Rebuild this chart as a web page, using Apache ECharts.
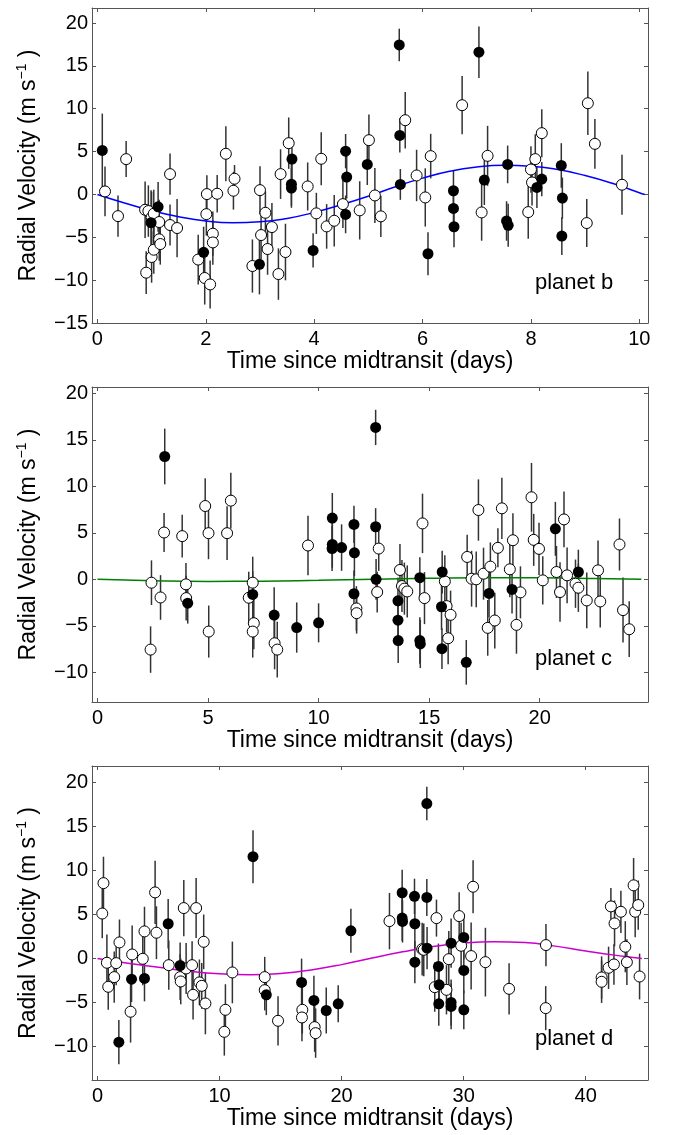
<!DOCTYPE html>
<html>
<head>
<meta charset="utf-8">
<script src="https://cdn.jsdelivr.net/npm/echarts@6/dist/echarts.min.js"></script>
<style>html,body{margin:0;padding:0;background:#fff}#chart{width:673px;height:1135px}</style>
</head>
<body>
<div id="chart"></div>
<script>
// [time (days), RV (m/s), error]
var bFilled = [
  [0.09, 5.13, 4.3], [0.99, -3.3, 3.8], [1.12, -1.44, 2.9], [1.96, -6.76, 3.0], [2.99, -8.16, 3.5],
  [3.59, 4.12, 2.5], [3.58, 1.2, 2.5], [3.58, 0.74, 2.3], [3.98, -6.53, 2.0], [4.58, 5.05, 2.0],
  [4.6, 2.02, 2.5], [4.58, -2.33, 2.2], [4.98, 3.5, 2.4], [5.57, 17.44, 1.9], [5.58, 6.88, 2.0],
  [5.59, 1.17, 1.8], [6.1, -6.92, 2.5], [6.57, 0.43, 2.4], [6.57, -1.63, 2.4], [6.58, -3.77, 2.4],
  [7.04, 16.59, 3.0], [7.14, 1.67, 2.9], [7.57, 3.5, 2.2], [7.55, -3.1, 2.3], [7.58, -3.6, 2.5],
  [8.11, 0.82, 2.4], [8.2, 1.79, 2.0], [8.56, 3.38, 2.6], [8.58, -0.43, 2.4], [8.57, -4.86, 2.2]
];
var bOpen = [
  [0.14, 0.35, 2.9], [0.38, -2.53, 2.4], [0.53, 4.12, 2.1], [0.88, -1.79, 3.3], [0.9, -9.13, 2.5],
  [0.94, -1.94, 3.0], [1.0, -7.3, 3.0], [1.0, -2.68, 3.0], [1.04, -6.45, 2.8], [1.04, -2.25, 2.8],
  [1.14, -3.22, 2.6], [1.14, -5.24, 2.5], [1.16, -5.79, 2.4], [1.34, 2.37, 2.4], [1.34, -3.57, 2.4],
  [1.47, -3.92, 3.4], [1.86, -7.6, 2.9], [1.98, -9.75, 3.1], [2.02, 0.04, 2.2], [2.01, -2.3, 2.5],
  [2.08, -10.5, 2.8], [2.13, -4.58, 2.6], [2.13, -5.6, 2.6], [2.21, 0.08, 2.2], [2.37, 4.74, 3.2],
  [2.53, 1.83, 1.6], [2.51, 0.43, 2.2], [2.86, -8.35, 3.1], [3.0, 0.5, 2.8], [3.02, -4.74, 2.8],
  [3.1, -2.14, 2.5], [3.14, -6.37, 3.0], [3.22, -3.81, 2.8], [3.34, -9.29, 3.0], [3.38, 2.37, 2.9],
  [3.47, -6.72, 3.3], [3.53, 5.98, 3.0], [3.88, 0.93, 2.8], [4.04, -2.21, 2.4], [4.13, 4.16, 3.1],
  [4.23, -3.73, 2.6], [4.37, -3.07, 3.0], [4.53, -1.13, 2.8], [4.84, -1.86, 3.4], [5.01, 6.33, 3.0],
  [5.12, -0.12, 3.2], [5.23, -2.56, 2.4], [5.68, 8.66, 3.3], [5.89, 2.21, 3.0], [6.05, -0.35, 3.4],
  [6.15, 4.47, 2.6], [6.73, 10.41, 3.4], [7.09, -2.1, 3.3], [7.2, 4.5, 3.5], [7.95, -2.06, 3.1],
  [8.0, 2.91, 2.7], [8.02, 1.4, 2.7], [8.08, 4.12, 2.9], [8.2, 7.15, 2.8], [9.03, -3.34, 2.8],
  [9.05, 10.64, 3.7], [9.18, 5.9, 2.9], [9.68, 1.13, 3.5]
];
var bModel = [
  [0, 0], [0.5, -1.0], [1, -1.9], [1.5, -2.6], [2, -3.1], [2.5, -3.3], [3, -3.2], [3.5, -2.8],
  [4, -2.1], [4.5, -1.2], [5, -0.2], [5.5, 0.9], [6, 1.9], [6.5, 2.7], [7, 3.2], [7.5, 3.4],
  [8, 3.3], [8.5, 2.9], [9, 2.2], [9.5, 1.3], [10, 0.2], [10.1, 0]
];

var cFilled = [
  [3.04, 13.22, 3.0], [4.08, -2.56, 2.2], [7.02, -1.62, 2.5], [7.99, -3.85, 3.0], [9.01, -5.19, 2.7],
  [10.0, -4.68, 2.1], [10.62, 6.59, 2.7], [10.62, 3.75, 2.5], [10.61, 3.31, 2.4], [11.04, 3.42, 2.5],
  [11.6, 5.91, 2.0], [11.62, 2.85, 2.5], [11.6, -1.55, 2.5], [12.58, 16.35, 1.9], [12.58, 5.66, 2.0],
  [12.6, 0.0, 2.2], [13.59, -2.31, 2.5], [13.59, -4.39, 2.5], [13.6, -6.59, 2.4], [14.58, 0.18, 2.2],
  [14.58, -6.59, 2.5], [14.6, -6.95, 2.6], [15.59, 0.79, 2.3], [15.56, -2.95, 2.5], [15.58, -7.46, 2.2],
  [16.68, -8.93, 2.4], [17.71, -1.51, 2.6], [18.75, -1.08, 2.6], [20.71, 5.44, 2.9], [21.75, 0.79, 2.4]
];
var cOpen = [
  [2.4, -7.56, 2.5], [2.44, -0.36, 2.4], [2.85, -1.95, 2.4], [3.01, 5.04, 2.1], [3.83, 4.65, 2.3],
  [4.0, -0.54, 2.3], [4.01, -2.02, 2.4], [4.87, 7.89, 3.0], [5.02, 4.97, 2.8], [5.03, -5.62, 2.8],
  [5.86, 4.97, 2.9], [6.03, 8.47, 3.0], [6.84, -1.98, 2.8], [7.02, -0.36, 2.8], [7.07, -4.72, 2.8],
  [7.02, -5.62, 2.8], [8.01, -6.88, 2.8], [8.13, -7.56, 3.0], [9.52, 3.64, 3.2], [11.71, -3.13, 2.4],
  [11.72, -3.64, 2.2], [12.72, 3.31, 2.4], [12.65, -1.37, 2.2], [13.68, 1.01, 2.8], [13.77, -0.72, 2.8],
  [13.88, -1.0, 2.8], [14.01, -1.3, 2.8], [14.7, 6.02, 3.2], [14.79, -2.02, 2.8], [15.71, -0.22, 2.8],
  [15.79, -2.88, 2.8], [15.97, -3.82, 2.6], [15.86, -6.34, 2.8], [16.72, 2.41, 2.4], [16.92, 0.07, 3.0],
  [17.13, 0.0, 3.0], [17.23, 7.46, 3.3], [17.46, 0.61, 2.8], [17.77, 1.37, 2.6], [17.65, -5.22, 3.0],
  [17.97, -4.43, 3.0], [18.11, 3.39, 2.1], [18.29, 7.64, 3.3], [18.65, 1.08, 3.0], [18.79, 4.21, 2.9],
  [18.95, -4.9, 3.1], [19.13, -1.4, 2.8], [19.63, 8.83, 3.7], [19.73, 4.25, 2.8], [19.97, 3.28, 2.8],
  [20.14, -0.11, 2.6], [20.76, 0.79, 2.8], [20.92, -1.37, 3.2], [21.1, 6.45, 3.0], [21.24, 0.43, 3.0],
  [21.62, -0.47, 2.6], [21.75, -0.9, 2.6], [22.13, -2.27, 3.0], [22.64, 0.97, 3.2], [22.74, -2.38, 2.8],
  [23.61, 3.75, 2.8], [23.77, -3.31, 3.5], [24.05, -5.37, 3.0]
];
var cModel = [
  [0, 0], [2.5, -0.15], [5, -0.22], [7.5, -0.2], [10, -0.1], [12.5, 0.02], [15, 0.12],
  [17.5, 0.18], [20, 0.17], [22.5, 0.1], [24.6, 0]
];

var dFilled = [
  [1.75, -9.5, 2.5], [2.79, -2.35, 2.6], [3.85, -2.27, 2.6], [5.79, 3.94, 2.8], [6.77, -0.8, 2.6],
  [12.74, 11.55, 3.0], [13.83, -4.13, 2.3], [16.72, -2.72, 2.7], [17.73, -4.77, 2.8], [18.74, -5.91, 2.6],
  [19.72, -5.15, 2.1], [20.76, 3.14, 2.5], [24.96, 7.46, 2.6], [24.96, 4.58, 2.6], [24.99, 4.2, 2.4],
  [25.97, 7.05, 2.0], [26.0, 3.94, 2.8], [26.0, -0.42, 2.4], [26.98, 17.58, 1.9], [26.98, 6.93, 2.1],
  [27.0, 1.17, 2.4], [27.93, -0.91, 2.6], [27.99, -2.99, 2.6], [27.96, -5.15, 2.5], [28.97, 1.74, 2.8],
  [28.97, -5.0, 2.6], [28.97, -5.45, 2.6], [30.01, 2.39, 2.5], [30.01, -1.36, 2.6], [30.01, -5.83, 2.2]
];
var dOpen = [
  [0.39, 5.1, 2.8], [0.49, 8.55, 3.0], [0.77, -0.49, 3.2], [0.88, -3.22, 2.6], [1.37, -2.12, 2.9],
  [1.53, -0.53, 2.5], [1.8, 1.82, 2.6], [2.71, -6.05, 3.5], [2.84, 0.45, 3.3], [3.71, -0.04, 3.0],
  [3.85, 3.07, 2.8], [4.72, 7.5, 3.6], [4.83, 2.92, 3.0], [5.84, -0.76, 2.8], [6.77, -2.12, 2.6],
  [6.82, -2.61, 2.6], [7.07, 5.72, 3.2], [7.26, -1.14, 2.9], [7.75, -0.76, 2.7], [7.83, -4.13, 2.8],
  [8.08, 5.72, 3.4], [8.35, -2.72, 2.6], [8.54, -3.11, 2.6], [8.7, 1.89, 3.1], [8.84, -5.11, 3.5],
  [10.39, -8.33, 2.7], [10.48, -5.83, 2.9], [11.05, -1.59, 3.5], [13.7, -2.12, 2.3], [13.7, -3.6, 2.3],
  [14.79, -7.08, 2.8], [16.78, -5.83, 2.7], [16.75, -6.7, 2.7], [17.79, -7.8, 2.8], [17.87, -8.48, 2.8],
  [23.92, 4.24, 3.2], [26.6, 1.06, 3.0], [26.73, 0.98, 3.0], [27.63, -3.26, 2.8], [27.77, 4.58, 2.1],
  [28.59, -3.56, 2.8], [28.78, -0.08, 3.2], [29.63, 4.81, 2.7], [29.79, 1.44, 2.6], [30.61, 0.27, 3.8],
  [30.77, 8.14, 3.0], [31.78, -0.42, 3.9], [33.72, -3.45, 2.9], [36.74, 1.52, 2.4], [36.72, -5.64, 2.5],
  [41.3, -2.16, 2.4], [41.3, -2.65, 2.4], [41.87, -1.06, 2.4], [42.31, -0.68, 2.3], [42.06, 5.91, 2.1],
  [42.36, 3.98, 2.6], [42.88, 5.3, 2.4], [43.24, 1.33, 2.9], [43.37, -0.42, 2.6], [43.92, 8.3, 3.1],
  [44.05, 5.3, 2.9], [44.3, 6.06, 2.8], [44.41, -2.05, 2.6]
];
var dModel = [
  [0, 0], [2.5, -0.55], [5, -1.0], [7.5, -1.45], [10, -1.75], [12.5, -1.85], [15, -1.7],
  [17.5, -1.3], [20, -0.7], [22.5, 0.05], [25, 0.75], [27.5, 1.35], [30, 1.75], [32.5, 1.9],
  [35, 1.8], [37.5, 1.4], [40, 0.85], [42.5, 0.35], [44.6, 0]
];

var bXTicks = [0, 2, 4, 6, 8, 10];
var cXTicks = [0, 5, 10, 15, 20];
var dXTicks = [0, 10, 20, 30, 40];
var bYTicks = [-15, -10, -5, 0, 5, 10, 15, 20];
var cYTicks = [-10, -5, 0, 5, 10, 15, 20];
var dYTicks = [-10, -5, 0, 5, 10, 15, 20];
var planetNames = ['planet b', 'planet c', 'planet d'];

var FONT = 'Liberation Sans, Arial, sans-serif';
var FRAME = '#555';

var panels = [
  { filled: bFilled, open: bOpen, model: bModel, color: '#0000ff', xr: [-0.1, 10.16], yr: [-15, 21.75], xt: bXTicks, yt: bYTicks, top: 8, h: 315, labelTop: 272 },
  { filled: cFilled, open: cOpen, model: cModel, color: '#008000', xr: [-0.25, 24.9], yr: [-13.2, 20.7], xt: cXTicks, yt: cYTicks, top: 387, h: 315, labelTop: 648 },
  { filled: dFilled, open: dOpen, model: dModel, color: '#cc00cc', xr: [-0.45, 45.1], yr: [-13.8, 21.85], xt: dXTicks, yt: dYTicks, top: 766, h: 314, labelTop: 1028 }
];

function errorBars(params, api) {
  var x = api.value(0), y = api.value(1), e = api.value(2);
  var p1 = api.coord([x, y + e]);
  var p2 = api.coord([x, y - e]);
  return {
    type: 'line',
    shape: { x1: p1[0], y1: p1[1], x2: p2[0], y2: p2[1] },
    style: { stroke: '#333', lineWidth: 1.5 }
  };
}

function minus(v) { return String(v).replace('-', '\u2212'); }

var grids = [], xAxes = [], yAxes = [], series = [], graphics = [];

panels.forEach(function (p, i) {
  grids.push({ left: 92, width: 556, top: p.top, height: p.h, show: false });
  var tick = { show: true, inside: true, length: 4, customValues: p.xt, lineStyle: { color: FRAME } };
  var ytick = { show: true, inside: true, length: 4, customValues: p.yt, lineStyle: { color: FRAME } };
  var line = { show: true, onZero: false, lineStyle: { color: FRAME, width: 1 } };
  xAxes.push({
    type: 'value', gridIndex: i, position: 'bottom', min: p.xr[0], max: p.xr[1],
    axisLine: line, axisTick: tick, splitLine: { show: false },
    axisLabel: { customValues: p.xt, fontSize: 20, fontFamily: FONT, color: '#000', margin: 6 },
    name: 'Time since midtransit (days)', nameLocation: 'middle', nameGap: 27,
    nameTextStyle: { fontSize: 23, fontFamily: FONT, color: '#000' }
  });
  xAxes.push({
    type: 'value', gridIndex: i, position: 'top', min: p.xr[0], max: p.xr[1],
    axisLine: line, axisTick: tick, splitLine: { show: false }, axisLabel: { show: false }
  });
  yAxes.push({
    type: 'value', gridIndex: i, position: 'left', min: p.yr[0], max: p.yr[1],
    axisLine: line, axisTick: ytick, splitLine: { show: false },
    axisLabel: { customValues: p.yt, fontSize: 20, fontFamily: FONT, color: '#000', margin: 4, formatter: minus },
    name: '{a|Radial Velocity (m s}{s|\u22121}{a| )}', nameLocation: 'middle', nameGap: 49,
    nameTextStyle: {
      rich: {
        a: { fontSize: 23, fontFamily: FONT, color: '#000', lineHeight: 28 },
        s: { fontSize: 14, fontFamily: FONT, color: '#000', verticalAlign: 'top', lineHeight: 28 }
      }
    }
  });
  yAxes.push({
    type: 'value', gridIndex: i, position: 'right', min: p.yr[0], max: p.yr[1],
    axisLine: line, axisTick: ytick, splitLine: { show: false }, axisLabel: { show: false }
  });
  var xi = i * 2, yi = i * 2;
  series.push({
    type: 'custom', xAxisIndex: xi, yAxisIndex: yi, renderItem: errorBars,
    data: p.open.concat(p.filled), z: 1, silent: true
  });
  series.push({
    type: 'line', xAxisIndex: xi, yAxisIndex: yi, data: p.model, smooth: true,
    showSymbol: false, lineStyle: { color: p.color, width: 1.5 }, z: 2, silent: true
  });
  series.push({
    type: 'scatter', xAxisIndex: xi, yAxisIndex: yi, data: p.open, symbolSize: 11, z: 3,
    itemStyle: { color: '#fff', borderColor: '#000', borderWidth: 1, opacity: 1 }
  });
  series.push({
    type: 'scatter', xAxisIndex: xi, yAxisIndex: yi, data: p.filled, symbolSize: 11, z: 4,
    itemStyle: { color: '#000', opacity: 1 }
  });
  graphics.push({
    type: 'text', left: 535, top: p.labelTop,
    style: { text: planetNames[i], font: '22px ' + FONT, fill: '#000' }
  });
});

var myChart = echarts.init(document.getElementById('chart'));
myChart.setOption({
  animation: false,
  backgroundColor: '#fff',
  grid: grids,
  xAxis: xAxes,
  yAxis: yAxes,
  series: series,
  graphic: graphics
});
</script>
</body>
</html>
